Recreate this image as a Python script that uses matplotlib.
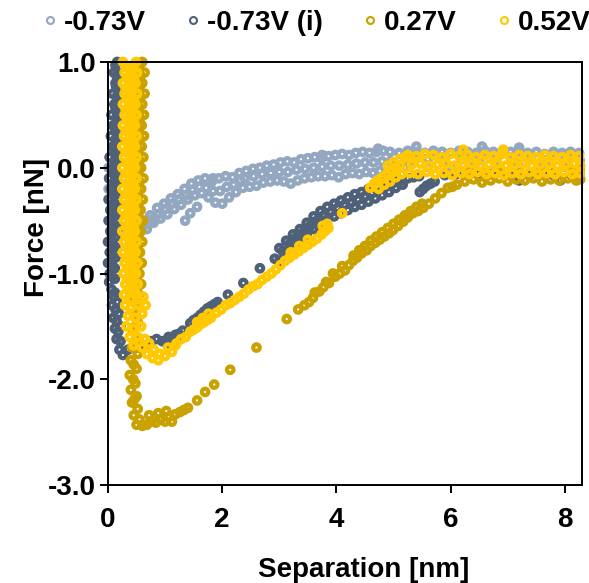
import matplotlib
matplotlib.use('Agg')
import matplotlib.pyplot as plt
from matplotlib.lines import Line2D

plt.rcParams['font.family'] = ['Liberation Sans', 'DejaVu Sans']
plt.rcParams['font.weight'] = 'bold'
plt.rcParams['axes.unicode_minus'] = False

labels = ['-0.73V', '-0.73V (i)', '0.27V', '0.52V']
colors = ['#93a7c1', '#4f6079', '#c9a100', '#ffc800']

xticks = [0, 2, 4, 6, 8]
yticks = [-3.0, -2.0, -1.0, 0.0, 1.0]

# (separation nm, force nN)

# -0.73V
blue_pts = [
    (0.03, 0.10), (0.01, 0.00), (0.02, -0.10), (0.01, -0.20), (0.04, -0.30), (0.05, -0.40),
    (0.07, -0.50), (0.12, -0.56), (0.20, -0.58), (0.28, -0.60), (0.36, -0.61), (0.44, -0.60),
    # upper edge
    (0.50, -0.54), (0.62, -0.50), (0.74, -0.45), (0.86, -0.38), (0.98, -0.34), (1.10, -0.29),
    (1.22, -0.25), (1.34, -0.20), (1.46, -0.15), (1.58, -0.12), (1.70, -0.10), (1.82, -0.13),
    (1.94, -0.10), (2.06, -0.08), (2.18, -0.09), (2.30, -0.05), (2.42, -0.03), (2.54, -0.01),
    (2.66, 0.00), (2.78, 0.02), (2.90, 0.03), (3.02, 0.05), (3.14, 0.06), (3.26, 0.05), (3.38, 0.08),
    (3.50, 0.09), (3.62, 0.10), (3.74, 0.09), (3.86, 0.11), (3.98, 0.12), (4.10, 0.13), (4.22, 0.12),
    (4.34, 0.14), (4.46, 0.15), (4.58, 0.14), (4.70, 0.15), (4.82, 0.16), (4.94, 0.15), (5.10, 0.14),
    (5.25, 0.16), (5.40, 0.15), (5.55, 0.14), (5.70, 0.16), (5.85, 0.15), (6.00, 0.14), (6.15, 0.16),
    (6.30, 0.15), (6.45, 0.14), (6.60, 0.16), (6.75, 0.15), (6.90, 0.14), (7.05, 0.15), (7.20, 0.16),
    (7.35, 0.14), (7.50, 0.15), (7.65, 0.13), (7.80, 0.15), (7.95, 0.14), (8.10, 0.15), (8.25, 0.14),
    # middle
    (0.52, -0.58), (0.64, -0.54), (0.76, -0.49), (0.88, -0.44), (1.00, -0.39), (1.12, -0.34),
    (1.24, -0.30), (1.36, -0.26), (1.48, -0.21), (1.60, -0.18), (1.72, -0.19), (1.84, -0.22),
    (1.96, -0.22), (2.08, -0.18), (2.20, -0.16), (2.32, -0.12),
    (2.40, -0.10), (2.55, -0.08), (2.70, -0.06), (2.85, -0.05), (3.00, -0.04), (3.15, -0.04),
    (3.30, -0.02), (3.45, -0.01), (3.60, 0.00), (3.75, 0.01), (3.90, 0.02), (4.05, 0.02), (4.20, 0.03),
    (4.35, 0.04), (4.50, 0.05), (4.65, 0.05), (4.80, 0.06), (4.95, 0.06), (5.10, 0.07), (5.30, 0.07),
    (5.60, 0.08), (5.90, 0.07), (6.20, 0.08), (6.50, 0.07), (6.80, 0.08), (7.10, 0.07), (7.40, 0.08),
    (7.70, 0.07), (8.00, 0.08), (8.26, 0.07),
    # lower edge
    (0.55, -0.62), (0.68, -0.58), (0.80, -0.52), (0.92, -0.48), (1.04, -0.44), (1.16, -0.39),
    (1.28, -0.35), (1.40, -0.30), (1.52, -0.26), (1.64, -0.24), (1.76, -0.28), (1.88, -0.33),
    (2.00, -0.34), (2.12, -0.28), (2.24, -0.23), (2.36, -0.19), (2.48, -0.18), (2.60, -0.17),
    (2.72, -0.14), (2.84, -0.13), (2.96, -0.12), (3.08, -0.13), (3.20, -0.15), (3.32, -0.12),
    (3.44, -0.10), (3.56, -0.09), (3.68, -0.08), (3.80, -0.08), (3.92, -0.07), (4.04, -0.09),
    (4.16, -0.06), (4.28, -0.05), (4.40, -0.06), (4.52, -0.04), (4.64, -0.05), (4.76, -0.03),
    (4.88, -0.04), (5.00, -0.02), (5.20, 0.00), (5.60, 0.01), (6.00, 0.00), (6.40, 0.01), (6.80, 0.00),
    (7.20, 0.01), (7.60, 0.00), (8.00, 0.01), (8.26, 0.00),
    # loose rings
    (1.35, -0.50), (1.44, -0.43), (1.56, -0.37), (1.84, -0.10), (3.75, 0.12), (4.73, 0.18),
    (5.40, 0.20), (6.55, 0.20), (7.20, 0.19),
]

# -0.73V (i)
slate_pts = [
    (0.16, 1.00), (0.10, 0.90), (0.13, 0.80), (0.08, 0.70), (0.11, 0.60), (0.06, 0.50), (0.09, 0.40),
    (0.05, 0.30), (0.08, 0.20), (0.03, 0.10), (0.06, 0.00), (0.02, -0.10), (0.05, -0.20), (0.01, -0.30),
    (0.04, -0.40), (0.01, -0.50), (0.04, -0.60), (0.00, -0.70), (0.03, -0.80), (0.00, -0.90),
    (0.03, -1.00), (0.02, -1.08),
    (0.21, 0.95), (0.20, 0.85), (0.20, 0.75), (0.19, 0.65), (0.19, 0.55), (0.18, 0.45), (0.18, 0.35),
    (0.17, 0.25), (0.17, 0.15), (0.16, 0.05), (0.16, -0.05), (0.15, -0.15), (0.15, -0.25),
    (0.15, -0.35), (0.14, -0.45), (0.14, -0.55), (0.14, -0.65), (0.13, -0.75), (0.13, -0.85),
    (0.12, -0.95), (0.12, -1.05),
    (0.13, 0.97), (0.15, 0.87), (0.14, 0.77), (0.15, 0.67), (0.13, 0.57), (0.14, 0.47), (0.12, 0.37),
    (0.13, 0.27), (0.11, 0.17), (0.12, 0.07), (0.10, -0.03), (0.11, -0.13), (0.09, -0.23),
    (0.10, -0.33), (0.08, -0.43), (0.09, -0.53), (0.07, -0.63), (0.09, -0.73), (0.07, -0.83),
    (0.08, -0.93), (0.07, -1.03),
    (0.06, -1.15), (0.10, -1.22), (0.07, -1.30), (0.13, -1.34), (0.09, -1.42), (0.15, -1.45),
    (0.12, -1.52), (0.18, -1.55), (0.15, -1.62), (0.22, -1.64), (0.20, -1.72), (0.26, -1.77),
    (0.12, -1.18), (0.16, -1.27), (0.19, -1.38), (0.22, -1.50),
    (0.35, -1.72), (0.50, -1.70), (0.65, -1.68), (0.75, -1.64), (0.85, -1.62), (0.95, -1.64),
    (1.00, -1.64), (1.06, -1.60), (1.12, -1.62), (1.18, -1.58), (1.24, -1.57), (1.10, -1.67),
    (1.20, -1.64), (1.31, -1.54),
    (1.44, -1.47), (1.50, -1.44), (1.56, -1.42), (1.62, -1.39), (1.68, -1.36), (1.74, -1.33),
    (1.80, -1.31), (1.86, -1.29), (1.92, -1.27), (1.52, -1.49), (1.62, -1.45), (1.72, -1.40),
    (2.10, -1.20), (2.37, -1.09), (2.66, -0.95), (2.92, -0.86),
    # upper row
    (3.00, -0.76), (3.12, -0.69), (3.24, -0.63), (3.36, -0.58), (3.48, -0.52), (3.60, -0.46),
    (3.72, -0.41), (3.84, -0.37), (3.96, -0.34), (4.08, -0.31), (4.20, -0.28), (4.32, -0.25),
    (4.44, -0.23), (4.56, -0.20), (4.68, -0.17), (4.80, -0.14), (4.92, -0.11), (5.04, -0.08),
    # middle row
    (3.06, -0.79), (3.18, -0.72), (3.30, -0.66), (3.42, -0.61), (3.54, -0.55), (3.66, -0.50),
    (3.78, -0.45), (3.90, -0.42), (4.02, -0.38), (4.14, -0.35), (4.26, -0.33), (4.38, -0.30),
    (4.50, -0.27), (4.62, -0.24), (4.74, -0.21), (4.86, -0.18), (4.98, -0.15), (5.10, -0.12),
    # lower row
    (3.00, -0.88), (3.12, -0.81), (3.24, -0.75), (3.36, -0.70), (3.48, -0.64), (3.60, -0.58),
    (3.72, -0.53), (3.84, -0.49), (3.96, -0.46), (4.08, -0.43), (4.20, -0.40), (4.32, -0.37),
    (4.44, -0.35), (4.56, -0.32), (4.68, -0.29), (4.80, -0.26), (4.92, -0.23), (5.04, -0.19),
    (5.16, -0.16),
    # hook and plateau
    (5.46, -0.23), (5.52, -0.20), (5.58, -0.17), (5.65, -0.15), (5.72, -0.13),
    (5.15, -0.12), (5.25, -0.10), (5.35, -0.09), (5.45, -0.08), (5.90, -0.07), (6.10, -0.06),
    (6.30, -0.07), (6.50, -0.05), (6.70, -0.06), (6.90, -0.05), (7.10, -0.07), (7.20, -0.12),
    (7.40, -0.06), (7.60, -0.05), (7.80, -0.07), (7.92, -0.12), (8.10, -0.06), (8.26, -0.05),
]

# 0.27V
gold_pts = [
    (0.60, 1.00), (0.64, 0.90), (0.60, 0.80), (0.64, 0.70), (0.60, 0.60), (0.63, 0.50), (0.59, 0.40),
    (0.63, 0.30), (0.59, 0.20), (0.62, 0.10), (0.58, 0.00), (0.62, -0.10), (0.58, -0.20), (0.61, -0.30),
    (0.57, -0.40), (0.61, -0.50), (0.57, -0.60), (0.60, -0.70), (0.56, -0.80), (0.59, -0.90),
    (0.55, -1.00), (0.58, -1.10), (0.54, -1.20),
    (0.50, 0.95), (0.47, 0.85), (0.51, 0.75), (0.47, 0.65), (0.50, 0.55), (0.46, 0.45), (0.50, 0.35),
    (0.46, 0.25), (0.49, 0.15), (0.45, 0.05), (0.49, -0.05), (0.45, -0.15), (0.48, -0.25),
    (0.44, -0.35), (0.48, -0.45), (0.44, -0.55), (0.47, -0.65), (0.43, -0.75), (0.47, -0.85),
    (0.43, -0.95), (0.46, -1.05), (0.42, -1.15),
    (0.55, 0.97), (0.57, 0.87), (0.55, 0.77), (0.57, 0.67), (0.54, 0.57), (0.56, 0.47), (0.54, 0.37),
    (0.56, 0.27), (0.53, 0.17), (0.55, 0.07), (0.53, -0.03), (0.55, -0.13), (0.52, -0.23),
    (0.54, -0.33), (0.52, -0.43), (0.54, -0.53), (0.51, -0.63), (0.53, -0.73), (0.50, -0.83),
    (0.52, -0.93), (0.50, -1.03), (0.51, -1.13),
    (0.50, -1.30), (0.45, -1.38), (0.52, -1.46), (0.44, -1.54), (0.50, -1.62), (0.42, -1.70),
    (0.52, -1.76), (0.40, -1.82), (0.50, -1.90), (0.38, -1.96), (0.48, -2.04), (0.40, -2.10),
    (0.50, -2.16), (0.42, -2.22), (0.52, -2.28), (0.45, -2.34), (0.55, -2.38), (0.50, -2.43),
    (0.46, -1.26), (0.48, -1.50), (0.46, -1.66), (0.45, -1.86), (0.44, -2.00), (0.46, -2.19),
    (0.60, -2.44), (0.68, -2.43), (0.76, -2.40), (0.84, -2.41), (0.92, -2.38), (1.00, -2.40),
    (1.06, -2.36), (1.12, -2.40), (1.18, -2.33), (1.26, -2.31), (1.33, -2.29), (0.72, -2.34),
    (0.88, -2.32), (1.02, -2.30),
    (1.40, -2.27), (1.56, -2.20), (1.70, -2.12), (1.86, -2.05), (2.14, -1.91), (2.60, -1.70),
    (3.13, -1.43), (3.33, -1.34), (3.44, -1.30), (3.52, -1.27), (3.59, -1.23), (3.70, -1.17),
    (3.77, -1.13), (3.87, -1.09), (3.98, -1.03), (4.06, -1.00), (4.15, -0.97), (4.22, -0.92),
    (4.29, -0.88), (4.36, -0.85), (4.44, -0.81), (4.53, -0.78), (4.60, -0.74), (4.68, -0.71),
    (4.76, -0.68), (4.84, -0.65), (4.92, -0.62), (4.99, -0.59), (5.08, -0.55), (5.17, -0.51),
    (5.25, -0.47), (5.34, -0.43), (5.43, -0.41), (5.52, -0.38), (5.62, -0.34), (5.73, -0.29),
    (5.84, -0.24), (5.95, -0.19), (6.03, -0.18), (6.11, -0.16),
    (4.10, -0.93), (4.30, -0.83), (4.50, -0.74), (4.70, -0.65), (4.90, -0.57), (5.10, -0.49),
    (5.30, -0.41), (5.50, -0.34), (4.40, -0.78), (4.80, -0.61), (5.20, -0.45),
    (3.62, -1.18), (3.82, -1.08), (3.94, -1.00), (4.60, -0.69), (5.00, -0.53), (5.40, -0.37),
    # plateau
    (6.25, -0.13), (6.40, -0.11), (6.55, -0.14), (6.70, -0.12), (6.85, -0.10), (7.00, -0.13),
    (7.15, -0.11), (7.30, -0.12), (7.45, -0.10), (7.60, -0.13), (7.75, -0.11), (7.90, -0.12),
    (8.05, -0.10), (8.20, -0.12), (8.27, -0.11),
    (6.30, -0.04), (6.60, -0.05), (6.90, -0.03), (7.20, -0.05), (7.50, -0.04), (7.80, -0.05),
    (8.10, -0.04), (8.26, -0.03),
]

# 0.52V
yellow_pts = [
    (0.26, 1.00), (0.29, 0.90), (0.26, 0.80), (0.29, 0.70), (0.26, 0.60), (0.29, 0.50), (0.26, 0.40),
    (0.28, 0.30), (0.25, 0.20), (0.28, 0.10), (0.25, 0.00), (0.28, -0.10), (0.25, -0.20), (0.28, -0.30),
    (0.25, -0.40), (0.28, -0.50), (0.25, -0.60), (0.28, -0.70), (0.26, -0.80), (0.29, -0.90),
    (0.27, -1.00), (0.30, -1.10), (0.28, -1.20),
    (0.38, 0.96), (0.40, 0.86), (0.37, 0.76), (0.40, 0.66), (0.37, 0.56), (0.40, 0.46), (0.37, 0.36),
    (0.40, 0.26), (0.37, 0.16), (0.40, 0.06), (0.37, -0.04), (0.40, -0.14), (0.37, -0.24),
    (0.40, -0.34), (0.37, -0.44), (0.40, -0.54), (0.37, -0.64), (0.40, -0.74), (0.38, -0.84),
    (0.41, -0.94), (0.39, -1.04), (0.42, -1.14), (0.40, -1.24),
    (0.49, 1.00), (0.51, 0.90), (0.48, 0.80), (0.51, 0.70), (0.48, 0.60), (0.50, 0.50), (0.47, 0.40),
    (0.50, 0.30), (0.47, 0.20), (0.50, 0.10), (0.47, 0.00), (0.50, -0.10), (0.47, -0.20),
    (0.50, -0.30), (0.47, -0.40), (0.50, -0.50), (0.47, -0.60), (0.50, -0.70), (0.48, -0.80),
    (0.51, -0.90), (0.49, -1.00), (0.52, -1.10), (0.50, -1.20),
    (0.32, 0.95), (0.33, 0.85), (0.31, 0.75), (0.33, 0.65), (0.31, 0.55), (0.33, 0.45), (0.31, 0.35),
    (0.33, 0.25), (0.31, 0.15), (0.33, 0.05), (0.31, -0.05), (0.33, -0.15), (0.31, -0.25),
    (0.33, -0.35), (0.31, -0.45), (0.33, -0.55), (0.31, -0.65), (0.33, -0.75), (0.32, -0.85),
    (0.34, -0.95), (0.33, -1.05), (0.35, -1.15),
    (0.44, 0.93), (0.45, 0.83), (0.43, 0.73), (0.45, 0.63), (0.43, 0.53), (0.45, 0.43), (0.43, 0.33),
    (0.45, 0.23), (0.43, 0.13), (0.45, 0.03), (0.43, -0.07), (0.45, -0.17), (0.43, -0.27),
    (0.45, -0.37), (0.43, -0.47), (0.45, -0.57), (0.43, -0.67), (0.45, -0.77), (0.44, -0.87),
    (0.46, -0.97), (0.45, -1.07), (0.47, -1.17),
    (0.30, -1.30), (0.40, -1.32), (0.52, -1.30), (0.62, -1.22), (0.66, -1.30), (0.60, -1.38),
    (0.35, -1.40), (0.48, -1.42), (0.32, -1.50), (0.45, -1.52), (0.58, -1.50), (0.38, -1.60),
    (0.52, -1.60), (0.65, -1.62), (0.45, -1.68), (0.60, -1.70), (0.72, -1.66), (0.68, -1.76),
    (0.80, -1.72), (0.78, -1.80), (0.90, -1.76), (0.88, -1.82), (1.00, -1.78), (1.05, -1.70),
    (1.12, -1.74), (1.18, -1.68),
    (1.20, -1.66), (1.28, -1.62), (1.36, -1.60), (1.44, -1.55), (1.50, -1.53), (1.56, -1.51),
    (1.62, -1.48), (1.68, -1.46), (1.74, -1.44), (1.80, -1.42), (1.56, -1.46), (1.66, -1.42),
    (1.76, -1.38),
    (1.90, -1.37), (1.98, -1.34), (2.06, -1.30), (2.14, -1.28), (2.22, -1.25), (2.30, -1.22),
    (2.38, -1.19), (2.46, -1.15), (2.54, -1.12), (2.62, -1.10), (2.70, -1.06), (2.78, -1.03),
    (2.86, -1.00), (2.94, -0.96), (3.02, -0.92), (3.10, -0.88), (3.18, -0.85), (3.26, -0.82),
    (3.34, -0.79), (3.42, -0.76), (3.50, -0.73), (3.58, -0.70), (3.66, -0.67), (3.74, -0.63),
    (3.80, -0.60), (3.86, -0.57), (3.76, -0.55), (3.84, -0.53), (3.20, -0.80), (3.35, -0.74),
    (3.50, -0.68),
    (4.10, -0.43), (4.59, -0.19),
    (4.66, -0.15), (4.72, -0.12), (4.80, -0.09), (4.88, -0.06), (4.96, -0.03), (5.04, 0.00),
    (5.12, 0.02), (4.74, -0.20), (4.84, -0.16), (4.94, -0.13), (5.04, -0.09), (5.14, -0.06),
    (4.90, 0.02), (5.00, 0.05), (5.10, 0.08), (5.20, 0.10),
    # plateau, three rows
    (5.25, 0.12), (5.40, 0.11), (5.55, 0.13), (5.70, 0.12), (5.85, 0.10), (6.00, 0.13), (6.15, 0.11),
    (6.30, 0.12), (6.45, 0.10), (6.60, 0.12), (6.75, 0.11), (6.90, 0.13), (7.05, 0.10), (7.20, 0.12),
    (7.35, 0.11), (7.50, 0.10), (7.65, 0.12), (7.80, 0.11), (7.95, 0.10), (8.10, 0.12), (8.25, 0.11),
    (5.32, 0.03), (5.47, 0.04), (5.62, 0.02), (5.77, 0.03), (5.92, 0.04), (6.07, 0.02), (6.22, 0.03),
    (6.37, 0.04), (6.52, 0.02), (6.67, 0.03), (6.82, 0.04), (6.97, 0.02), (7.12, 0.03), (7.27, 0.04),
    (7.42, 0.02), (7.57, 0.03), (7.72, 0.04), (7.87, 0.02), (8.02, 0.03), (8.17, 0.04), (8.27, 0.02),
    (5.28, -0.05), (5.43, -0.06), (5.58, -0.04), (5.73, -0.06), (5.88, -0.05), (6.03, -0.07),
    (6.18, -0.05), (6.33, -0.06), (6.48, -0.04), (6.63, -0.06), (6.78, -0.05), (6.93, -0.07),
    (7.08, -0.05), (7.23, -0.06), (7.38, -0.04), (7.53, -0.06), (7.68, -0.05), (7.83, -0.06),
    (7.98, -0.04), (8.13, -0.06), (8.26, -0.05),
    (6.22, 0.17), (6.92, 0.17),
]

series = [blue_pts, slate_pts, gold_pts, yellow_pts]

fig = plt.figure(figsize=(5.89, 5.83), dpi=100)
ax = fig.add_axes([0.1834, 0.168, 0.8046, 0.7257])

for pts, c in zip(series, colors):
    xs = [p[0] for p in pts]
    ys = [p[1] for p in pts]
    ax.scatter(xs, ys, s=22, facecolors='none', edgecolors=c, linewidths=3.0, clip_on=False)

ax.set_xlim(0, 8.3)
ax.set_ylim(-3, 1)
ax.set_xticks(xticks)
ax.set_yticks(yticks)
ax.set_yticklabels(['%.1f' % v for v in yticks])
ax.tick_params(direction='out', length=6, width=1.4, labelsize=20, pad=3)
ax.tick_params(axis='x', pad=10)
for sp in ax.spines.values():
    sp.set_linewidth(1.4)

ax.set_xlabel('Separation [nm]', fontsize=20, fontweight='bold')
ax.set_ylabel('Force [nN]', fontsize=20, fontweight='bold')
ax.xaxis.set_label_coords(0.54, -0.17)
ax.yaxis.set_label_coords(-0.122, 0.608)

handles = [Line2D([], [], marker='o', ls='none', mfc='none', mec=c, ms=5, mew=1.5) for c in colors]
fig.legend(handles, labels, loc='upper left', bbox_to_anchor=(0.075, 0.983), ncol=4, frameon=False,
           fontsize=20, handlelength=0.4, handletextpad=0.3, columnspacing=1.5,
           borderpad=0, borderaxespad=0)

fig.savefig('out.png', dpi=100)
